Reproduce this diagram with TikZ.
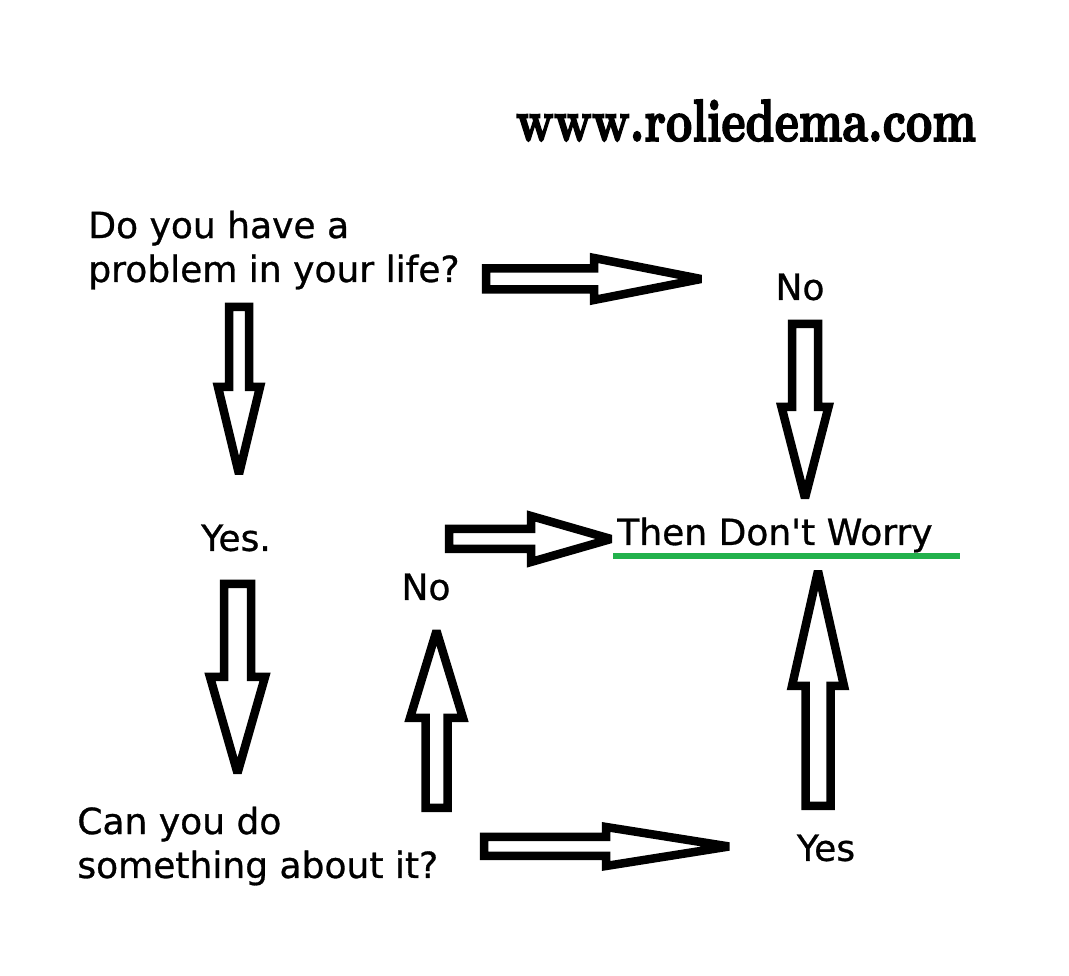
\documentclass[tikz,border=0pt]{standalone}
\usepackage{fontspec}
\newfontfamily\paintfont[FakeBold=0.8]{DejaVu Sans}
\newfontfamily\sitefont[FakeBold=3]{lmroman10-bold.otf}
\usetikzlibrary{calc}
\definecolor{paintgreen}{RGB}{34,177,76}

% hollow block arrow: tail, tip, half shaft, half head, head length
\newcommand\fatarrow[5]{%
  \coordinate (fa-base) at ($(#2)!#5!(#1)$);
  \draw[fatline] ($(#1)!#3!90:(#2)$) -- ($(fa-base)!#3!90:(#2)$) -- ($(fa-base)!#4!90:(#2)$) -- (#2)
    -- ($(fa-base)!#4!-90:(#2)$) -- ($(fa-base)!#3!-90:(#2)$) -- ($(#1)!#3!-90:(#2)$) -- cycle;
}

\begin{document}
\begin{tikzpicture}[x=1cm,y=1cm,
  fatline/.style={draw=black,fill=white,line width=0.17cm,line join=miter,miter limit=3},
  paint/.style={font=\paintfont\fontsize{20.5}{25}\selectfont,align=left,inner sep=0pt}]
\useasboundingbox (0,0) rectangle (21.38,19.52);
\node[font=\sitefont\fontsize{26}{30}\selectfont,inner sep=0pt,anchor=base] (site) at (14.92,16.70) {\scalebox{1}[1.3]{www.roliedema.com}};
\node[paint,anchor=base west] (problem) at (1.76,13.88) {Do you have a\\problem in your life?};
\node[paint] (notop) at (16.0,13.78) {No};
\node[paint] (yesleft) at (4.72,8.76) {Yes.};
\node[paint] (nomid) at (8.52,7.78) {No};
\node[paint,anchor=base west] (worry) at (12.34,8.62) {Then Don't Worry};
\node[paint,anchor=base west] (cando) at (1.54,1.96) {Can you do\\something about it?};
\node[paint] (yesright) at (16.52,2.56) {Yes};
\draw[paintgreen,line width=0.12cm] ([shift={(-0.08,-0.22)}]worry.base west) -- ([shift={(0.55,-0.22)}]worry.base east);
% arrow ends
\coordinate (problem-r) at (9.72,13.94);
\coordinate (notop-l) at (14.02,13.94);
\coordinate (problem-d) at (4.78,13.38);
\coordinate (yesleft-u) at (4.78,10.04);
\coordinate (yesleft-d) at (4.75,7.84);
\coordinate (cando-u) at (4.75,4.06);
\coordinate (notop-d) at (16.10,13.04);
\coordinate (worry-u) at (16.10,9.56);
\coordinate (nomid-r) at (8.98,8.74);
\coordinate (worry-l) at (12.22,8.74);
\coordinate (cando-r) at (8.73,3.36);
\coordinate (nomid-d) at (8.73,6.90);
\coordinate (yesright-u) at (16.36,3.40);
\coordinate (worry-d) at (16.36,8.10);
\coordinate (cando-e) at (9.68,2.59);
\coordinate (yesright-l) at (14.58,2.59);
\fatarrow{problem-r}{notop-l}{0.21cm}{0.42cm}{2.14cm}
\fatarrow{problem-d}{yesleft-u}{0.20cm}{0.42cm}{1.74cm}
\fatarrow{yesleft-d}{cando-u}{0.27cm}{0.55cm}{1.92cm}
\fatarrow{notop-d}{worry-u}{0.26cm}{0.47cm}{1.82cm}
\fatarrow{nomid-r}{worry-l}{0.20cm}{0.46cm}{1.60cm}
\fatarrow{cando-r}{nomid-d}{0.22cm}{0.53cm}{1.74cm}
\fatarrow{yesright-u}{worry-d}{0.25cm}{0.52cm}{2.30cm}
\fatarrow{cando-e}{yesright-l}{0.19cm}{0.39cm}{2.46cm}
\end{tikzpicture}
\end{document}
